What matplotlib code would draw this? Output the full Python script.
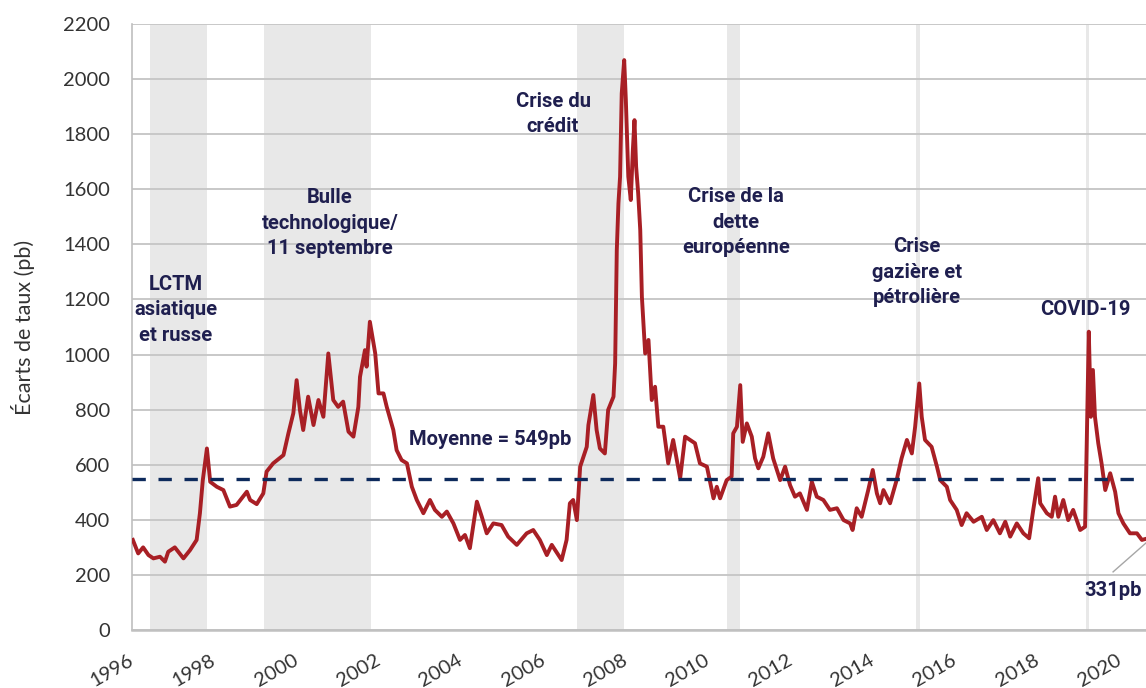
import numpy as np
import matplotlib
matplotlib.use("Agg")
import matplotlib.pyplot as plt

plt.rcParams["font.family"] = ["Lato", "DejaVu Sans"]

# spread series (year, pb)
years = [
    1996.02, 1996.15, 1996.27, 1996.40, 1996.52, 1996.68, 1996.80, 1996.88, 1997.04, 1997.25,
    1997.41, 1997.57, 1997.65, 1997.72, 1997.82, 1997.90, 1998.06, 1998.22, 1998.38, 1998.54,
    1998.79, 1998.87, 1999.03, 1999.19, 1999.27, 1999.43, 1999.68, 1999.80, 1999.92, 2000.00,
    2000.08, 2000.16, 2000.28, 2000.41, 2000.53, 2000.65, 2000.77, 2000.89, 2001.01, 2001.13,
    2001.26, 2001.38, 2001.50, 2001.54, 2001.66, 2001.70, 2001.78, 2001.91, 2001.99, 2002.11,
    2002.19, 2002.35, 2002.43, 2002.55, 2002.68, 2002.80, 2002.92, 2003.08, 2003.24, 2003.36,
    2003.53, 2003.65, 2003.81, 2003.97, 2004.09, 2004.21, 2004.38, 2004.50, 2004.62, 2004.78,
    2004.98, 2005.14, 2005.35, 2005.59, 2005.75, 2005.91, 2006.08, 2006.20, 2006.44, 2006.56,
    2006.64, 2006.72, 2006.81, 2006.89, 2007.05, 2007.09, 2007.21, 2007.29, 2007.37, 2007.49,
    2007.57, 2007.70, 2007.74, 2007.78, 2007.82, 2007.86, 2007.90, 2007.96, 2008.00, 2008.06,
    2008.12, 2008.17, 2008.21, 2008.25, 2008.30, 2008.35, 2008.39, 2008.47, 2008.55, 2008.63,
    2008.71, 2008.79, 2008.91, 2009.03, 2009.15, 2009.32, 2009.44, 2009.56, 2009.68, 2009.80,
    2009.97, 2010.13, 2010.21, 2010.29, 2010.45, 2010.57, 2010.61, 2010.70, 2010.78, 2010.84,
    2010.94, 2011.06, 2011.14, 2011.22, 2011.34, 2011.46, 2011.58, 2011.75, 2011.87, 2011.99,
    2012.11, 2012.23, 2012.40, 2012.52, 2012.64, 2012.80, 2012.96, 2013.13, 2013.29, 2013.45,
    2013.51, 2013.61, 2013.73, 2013.89, 2014.00, 2014.10, 2014.18, 2014.26, 2014.42, 2014.58,
    2014.70, 2014.83, 2014.95, 2015.03, 2015.13, 2015.19, 2015.27, 2015.43, 2015.56, 2015.64,
    2015.80, 2015.88, 2016.04, 2016.16, 2016.28, 2016.45, 2016.65, 2016.77, 2016.93, 2017.09,
    2017.22, 2017.34, 2017.50, 2017.66, 2017.80, 2017.90, 2018.02, 2018.07, 2018.23, 2018.35,
    2018.43, 2018.51, 2018.63, 2018.75, 2018.87, 2019.04, 2019.16, 2019.20, 2019.25, 2019.30,
    2019.35, 2019.40, 2019.48, 2019.56, 2019.65, 2019.77, 2019.89, 2019.97, 2020.09, 2020.25,
    2020.42, 2020.54, 2020.64,
]
spread = [
    327, 278, 300, 272, 260, 266, 248, 284, 300, 260,
    290, 327, 424, 544, 659, 538, 520, 508, 448, 454,
    502, 472, 457, 496, 575, 605, 635, 714, 787, 907,
    799, 726, 847, 744, 835, 774, 1004, 835, 810, 829,
    720, 702, 810, 919, 1016, 956, 1119, 1004, 859, 859,
    810, 726, 653, 617, 605, 520, 472, 424, 472, 436,
    411, 430, 387, 327, 345, 297, 466, 411, 351, 387,
    381, 339, 309, 351, 363, 327, 272, 309, 254, 327,
    460, 472, 399, 593, 665, 744, 853, 726, 659, 641,
    799, 847, 968, 1379, 1549, 1646, 1948, 2069, 1924, 1646,
    1561, 1742, 1851, 1682, 1585, 1452, 1210, 1004, 1053, 835,
    883, 738, 738, 605, 690, 551, 702, 690, 678, 605,
    593, 478, 520, 478, 544, 557, 714, 738, 889, 683,
    750, 702, 623, 587, 629, 714, 623, 544, 593, 526,
    484, 496, 436, 538, 484, 472, 436, 442, 399, 387,
    363, 442, 411, 508, 581, 496, 460, 508, 460, 544,
    623, 690, 641, 738, 895, 774, 690, 665, 593, 544,
    520, 472, 436, 381, 424, 393, 411, 363, 399, 351,
    393, 339, 387, 351, 333, 436, 551, 460, 424, 411,
    484, 411, 472, 399, 436, 363, 375, 678, 1083, 774,
    944, 774, 678, 605, 508, 569, 502, 424, 387, 351,
    351, 327, 331,
]

# shaded crisis periods (start, end)
shade_start = [1996.44, 1999.21, 2006.81, 2010.46, 2015.05, 2019.18]
shade_end = [1997.82, 2001.81, 2007.96, 2010.78, 2015.15, 2019.26]

mean_spread = 549
last_spread = 331

labels = ["LCTM\nasiatique\net russe", "Bulle\ntechnologique/\n11 septembre",
          "Crise du\ncrédit", "Crise de la\ndette\neuropéenne",
          "Crise\ngazière et\npétrolière", "COVID-19"]
label_x = [1997.07, 2000.81, 2006.23, 2010.68, 2015.08, 2019.16]
label_y = [1162, 1477, 1873, 1481, 1299, 1165]

navy = "#1f1f4f"
bold_font = ["Roboto", "DejaVu Sans"]

fig = plt.figure(figsize=(11.46, 6.88), dpi=100)
ax = fig.add_axes([0.1152, 0.0843, 0.8848, 0.8808])

for s, e in zip(shade_start, shade_end):
    ax.axvspan(s, e, color="#e8e8e8", lw=0, zorder=0)

ax.set_ylim(0, 2200)
ax.set_xlim(1996, 2020.64)
ax.set_yticks(np.arange(0, 2201, 200))
ax.set_xticks(np.arange(1996, 2021, 2))
ax.yaxis.grid(True, color="#c8c8c8", lw=1.4, zorder=1)
ax.set_axisbelow(True)

ax.plot(years, spread, color="#a81f25", lw=2.8, zorder=3, solid_joinstyle="round")
ax.axhline(mean_spread, color="#0d2a5c", lw=2.4, dashes=(4.0, 3.8), zorder=4)

for t, x, y in zip(labels, label_x, label_y):
    ax.text(x, y, t, ha="center", va="center", color=navy, fontsize=14.5,
            fontweight="bold", family=bold_font, linespacing=1.42, zorder=5)
ax.text(2004.70, 690, "Moyenne = 549pb", ha="center", va="center", color=navy,
        fontsize=14.5, fontweight="bold", family=bold_font, zorder=5)
ax.text(2019.84, 145, f"{last_spread}pb", ha="center", va="center", color=navy,
        fontsize=14.5, fontweight="bold", family=bold_font, zorder=5)
ax.plot([2019.84, years[-1]], [211, 316], color="#a6a6a6", lw=1, zorder=2)

for side in ["top", "right"]:
    ax.spines[side].set_visible(False)
ax.spines["left"].set_color("#bfbfbf")
ax.spines["left"].set_linewidth(1.2)
ax.spines["bottom"].set_color("#c0c0c0")
ax.spines["bottom"].set_linewidth(1.8)

ax.tick_params(axis="both", length=0, labelsize=14.5, labelcolor="#333333")
ax.tick_params(axis="y", pad=16)
ax.tick_params(axis="x", pad=21)
for lab in ax.get_xticklabels():
    lab.set_rotation(30)
    lab.set_ha("right")
    lab.set_rotation_mode("anchor")
    lab.set_va("center")

ax.set_ylabel("Écarts de taux (pb)", fontsize=15.5, color="#333333", labelpad=20)

fig.savefig("out.png", dpi=100)
